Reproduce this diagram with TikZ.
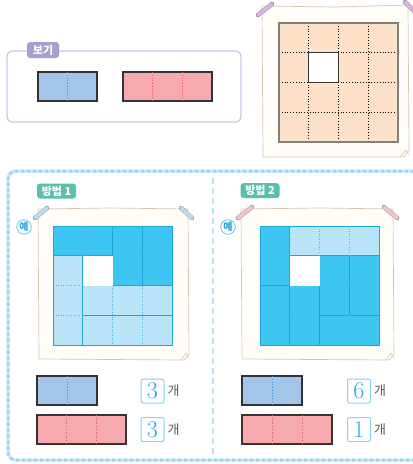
\documentclass[tikz,border=0pt]{standalone}
\usepackage{fontspec}
\newfontfamily\kr{Noto Sans CJK KR}
\usetikzlibrary{positioning}
\definecolor{boxlilac}{HTML}{C9C3E6}
\definecolor{taglilac}{HTML}{A79FCF}
\definecolor{tagteal}{HTML}{5BBFAE}
\definecolor{framesky}{HTML}{C4E7F8}
\definecolor{framedash}{HTML}{97D5F2}
\definecolor{paperedge}{HTML}{D6C6B6}
\definecolor{paperfill}{HTML}{FFFDF8}
\definecolor{peach}{HTML}{FDE1C9}
\definecolor{deepsky}{HTML}{3FC5F1}
\definecolor{palesky}{HTML}{B9E4F8}
\definecolor{skyline}{HTML}{1DA6DD}
\definecolor{barblue}{HTML}{A2C5E9}
\definecolor{barpink}{HTML}{F7AAAD}
\definecolor{pinkline}{HTML}{E4577A}
\definecolor{blueline}{HTML}{3A8FD2}
\definecolor{digitblue}{HTML}{29A8E0}
\definecolor{numedge}{HTML}{86D3F2}
\definecolor{tapepurple}{HTML}{D6B6DE}
\definecolor{tapeblue}{HTML}{BFDCEA}
\definecolor{tapepink}{HTML}{F2C4CC}
\tikzset{
  tag/.style={rounded corners=3pt, text=white, inner sep=0pt,
    font=\kr\bfseries\fontsize{11}{11}\selectfont},
  paper/.style={draw=paperedge, fill=paperfill, line width=0.7pt},
  tape/.style={draw=#1!70!black, double=#1, double distance=3.6pt,
    line width=0.4pt, line cap=round},
  piece/.style={draw=skyline, line width=0.7pt},
  seam/.style={draw=skyline!80!white, line width=0.6pt, dotted},
  bar/.style={draw=black!80, line width=1.1pt},
  numbox/.style={draw=numedge, fill=white, rounded corners=2pt, line width=1pt,
    minimum width=23pt, minimum height=24pt, inner sep=0pt, text=digitblue,
    font=\fontsize{24}{24}\selectfont},
  unitword/.style={text=black!65, inner sep=0pt, font=\kr\fontsize{13}{13}\selectfont},
  example/.style={circle, draw=digitblue!70, fill=white, line width=0.8pt,
    inner sep=0.5pt, text=digitblue, font=\kr\bfseries\fontsize{10}{10}\selectfont}
}
\begin{document}
\begin{tikzpicture}[x=1pt,y=-1pt]
\useasboundingbox (0,0) rectangle (413,464);

% box with the two pieces
\draw[boxlilac, line width=1.2pt, rounded corners=5pt] (7,51) rectangle (241,122);
\node[tag, fill=taglilac, minimum width=32pt, minimum height=16pt] (tagbogi) at (43,50) {보기};
\draw[bar, fill=barblue] (38,72) rectangle (97,101);
\draw[blueline, dotted, line width=0.8pt] (67.5,72) -- (67.5,101);
\draw[bar, fill=barpink] (123,72) rectangle (212,101);
\draw[pinkline, dotted, line width=0.8pt] (152.7,72) -- (152.7,101);
\draw[pinkline, dotted, line width=0.8pt] (182.3,72) -- (182.3,101);

% board to fill
\draw[paper] (262,6) -- (335,7) -- (408,5) -- (409,150) -- (404,157) -- (263,157) -- cycle;
\draw[paperedge, line width=0.6pt] (400,157) -- (406,150) -- (409,155);
\draw[tape=tapepurple] (258,15) -- (272,4);
\draw[tape=tapepurple] (405,2) -- (415,12);
\begin{scope}[shift={(279,23)}, x=29.75pt, y=-29.75pt]
  \fill[peach] (0,0) rectangle (4,4);
  \fill[white] (1,1) rectangle (2,2);
  \foreach \k in {1,2,3} {
    \draw[black, dotted, line width=0.8pt] (\k,0) -- (\k,4);
    \draw[black, dotted, line width=0.8pt] (0,\k) -- (4,\k);
  }
  \draw[black!80, line width=0.9pt, fill=white] (1,1) rectangle (2,2);
  \draw[black!50, line width=1.2pt] (0,0) rectangle (4,4);
\end{scope}

% dashed frame of the two ways
\draw[framesky, line width=3pt, rounded corners=8pt] (420,171) -- (8,171) -- (8,460) -- (420,460);
\draw[framedash, line width=3pt, dash pattern=on 3pt off 3pt, rounded corners=8pt] (420,171) -- (8,171) -- (8,460) -- (420,460);
\draw[framesky!80!framedash, line width=1.3pt, dash pattern=on 6pt off 4pt] (213,178) -- (213,456);

% way 1
\node[tag, fill=tagteal, minimum width=39pt, minimum height=15pt] (tagone) at (56.5,191) {방법 1};
\draw[paper] (38,209) -- (110,208) -- (188,209) -- (189,354) -- (184,360) -- (39,359) -- cycle;
\draw[paperedge, line width=0.6pt] (181,360) -- (186,353) -- (189,358);
\draw[tape=tapeblue] (35,218) -- (47,208);
\draw[tape=tapeblue] (181,208) -- (192,218);
\node[example] (exone) at (24,227) {예};
\begin{scope}[shift={(53,226)}, x=29.75pt, y=-29.75pt]
  \foreach \a/\b/\c/\d/\tone in {0/0/2/1/deepsky, 2/0/3/2/deepsky, 3/0/4/2/deepsky,
      0/1/1/4/palesky, 1/2/4/3/palesky, 1/3/4/4/palesky}
    \draw[piece, fill=\tone] (\a,\b) rectangle (\c,\d);
  \fill[white] (1,1) rectangle (2,2);
  \draw[seam] (1,0) -- (1,1);
  \draw[seam] (2,1) -- (4,1);
  \draw[seam] (0,2) -- (1,2);
  \draw[seam] (0,3) -- (1,3);
  \draw[seam] (2,2) -- (2,4);
  \draw[seam] (3,2) -- (3,4);
\end{scope}

% way 2
\node[tag, fill=tagteal, minimum width=39pt, minimum height=15pt] (tagtwo) at (260,190.5) {방법 2};
\draw[paper] (241,209) -- (320,208) -- (393,209) -- (394,354) -- (389,360) -- (242,359) -- cycle;
\draw[paperedge, line width=0.6pt] (386,360) -- (391,353) -- (394,358);
\draw[tape=tapepink] (238,218) -- (252,207);
\draw[tape=tapepink] (384,207) -- (397,218);
\node[example] (extwo) at (228,227) {예};
\begin{scope}[shift={(260,226)}, x=29.75pt, y=-29.75pt]
  \foreach \a/\b/\c/\d/\tone in {0/0/1/2/deepsky, 1/0/4/1/palesky, 2/1/3/3/deepsky,
      3/1/4/3/deepsky, 0/2/1/4/deepsky, 1/2/2/4/deepsky, 2/3/4/4/deepsky}
    \draw[piece, fill=\tone] (\a,\b) rectangle (\c,\d);
  \fill[white] (1,1) rectangle (2,2);
  \draw[seam] (0,1) -- (1,1);
  \draw[seam] (2,0) -- (2,1);
  \draw[seam] (3,0) -- (3,1);
  \draw[seam] (2,2) -- (4,2);
  \draw[seam] (0,3) -- (2,3);
  \draw[seam] (3,3) -- (3,4);
\end{scope}

% counts of way 1
\draw[bar, fill=barblue] (37,376) rectangle (97,405);
\draw[blueline, dotted, line width=0.8pt] (67,376) -- (67,405);
\draw[bar, fill=barpink] (37,415) rectangle (126,444);
\draw[pinkline, dotted, line width=0.8pt] (66.7,415) -- (66.7,444);
\draw[pinkline, dotted, line width=0.8pt] (96.3,415) -- (96.3,444);
\node[numbox] (countonea) at (152.5,391) {3};
\node[unitword, right=3pt of countonea] {개};
\node[numbox] (countoneb) at (152.5,429.5) {3};
\node[unitword, right=3pt of countoneb] {개};

% counts of way 2
\draw[bar, fill=barblue] (242,376) rectangle (302,405);
\draw[blueline, dotted, line width=0.8pt] (272,376) -- (272,405);
\draw[bar, fill=barpink] (242,415) rectangle (332,444);
\draw[pinkline, dotted, line width=0.8pt] (272,415) -- (272,444);
\draw[pinkline, dotted, line width=0.8pt] (302,415) -- (302,444);
\node[numbox] (counttwoa) at (359,391) {6};
\node[unitword, right=3pt of counttwoa] {개};
\node[numbox] (counttwob) at (359,429.5) {1};
\node[unitword, right=3pt of counttwob] {개};
\end{tikzpicture}
\end{document}
